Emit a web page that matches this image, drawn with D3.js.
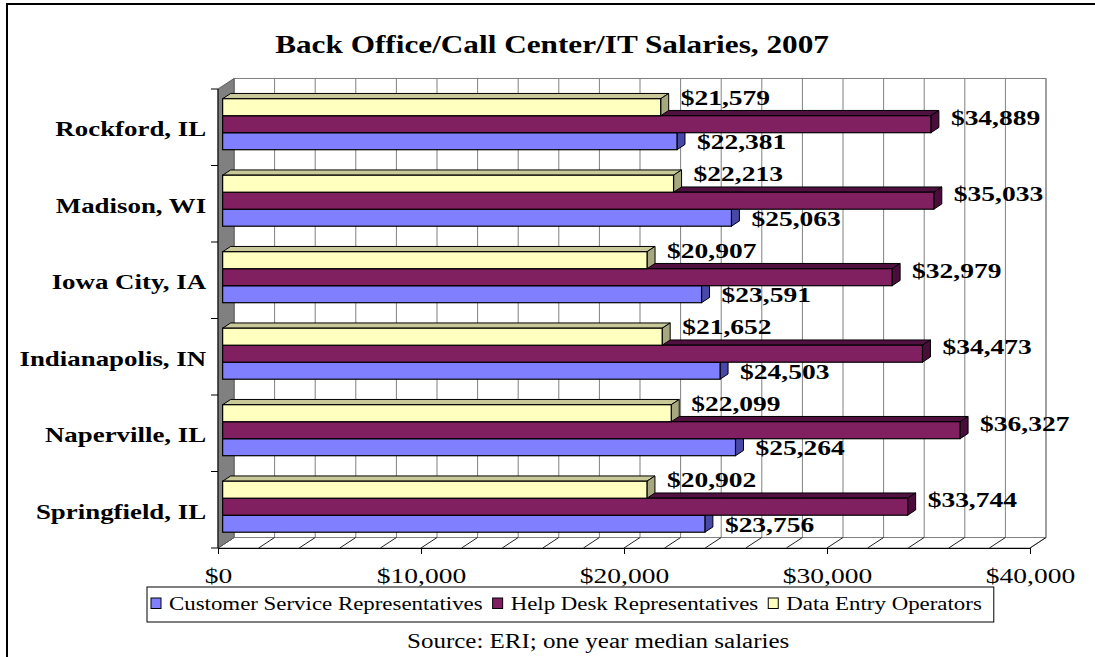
<!DOCTYPE html>
<html>
<head>
<meta charset="utf-8">
<script src="https://cdn.jsdelivr.net/npm/d3@7"></script>
<style>
  body { margin: 0; background: #fff; }
  text { font-family: "Liberation Serif", "Times New Roman", serif; fill: #000; }
</style>
</head>
<body>
<svg id="chart" width="1095" height="657"></svg>
<script>
// ---- data ----
const categories = ["Springfield, IL", "Naperville, IL", "Indianapolis, IN", "Iowa City, IA", "Madison, WI", "Rockford, IL"];
const seriesNames = ["Customer Service Representatives", "Help Desk Representatives", "Data Entry Operators"];
const customerService = [23756, 25264, 24503, 23591, 25063, 22381];
const helpDesk = [33744, 36327, 34473, 32979, 35033, 34889];
const dataEntry = [20902, 22099, 21652, 20907, 22213, 21579];
const xTicks = [0, 10000, 20000, 30000, 40000];
const gridStep = 2000;
const titleText = "Back Office/Call Center/IT Salaries, 2007";
const sourceText = "Source: ERI; one year median salaries";

// ---- look ----
const faceColors = ["#8080ff", "#802060", "#ffffc0"];
const topColors  = ["#5858c0", "#501040", "#c8c898"];
const sideColors = ["#4848a8", "#4a0c3a", "#a8a880"];
const SX = 1.25;               // horizontal text stretch
const W = 1095, H = 657;

const svg = d3.select("#chart");

// plot geometry: front plane and the depth vector of the 3-D box
const front = { left: 218, right: 1030, top: 89, bottom: 548 };
const depth = { dx: 16, dy: -10.5 };
const barT0 = 0.29, barT1 = 0.79;   // bar front / back depth fractions

const x = d3.scaleLinear().domain([0, 40000]).range([front.left, front.right]);
const y = d3.scaleBand().domain(categories).range([front.bottom, front.top]).padding(0);
const bw = y.bandwidth();
// inside each category: Data Entry on top, Customer Service at the bottom
const yInner = d3.scaleBand().domain([2, 1, 0]).range([bw / 6, bw * 5 / 6]);

function stext(parent, px, py, str, anchor) {
  return parent.append("text")
    .attr("transform", `translate(${px},${py}) scale(${SX},1)`)
    .attr("text-anchor", anchor || "start")
    .text(str);
}

// outer frame
svg.append("rect").attr("x", 7).attr("y", 4).attr("width", W + 20).attr("height", H + 20)
  .attr("fill", "#fff").attr("stroke", "#000").attr("stroke-width", 2);

// title
stext(svg, 552, 52.5, titleText, "middle")
  .attr("font-size", 25).attr("font-weight", "bold");

// ---- walls ----
const gWalls = svg.append("g");
// back wall
gWalls.append("rect")
  .attr("x", x(0) + depth.dx).attr("y", front.top + depth.dy)
  .attr("width", x(40000) - x(0)).attr("height", front.bottom - front.top)
  .attr("fill", "#fff").attr("stroke", "#808080");
// gridlines on back wall
const gridVals = d3.range(0, 40000 + 1, gridStep);
gWalls.selectAll("line.grid").data(gridVals).join("line")
  .attr("class", "grid")
  .attr("x1", d => x(d) + depth.dx).attr("x2", d => x(d) + depth.dx)
  .attr("y1", front.top + depth.dy).attr("y2", front.bottom + depth.dy)
  .attr("stroke", "#808080");
// floor
gWalls.append("polygon")
  .attr("points", [[x(0), front.bottom], [x(40000), front.bottom],
                   [x(40000) + depth.dx, front.bottom + depth.dy], [x(0) + depth.dx, front.bottom + depth.dy]].join(" "))
  .attr("fill", "#fff").attr("stroke", "#808080");
gWalls.selectAll("line.floor").data(gridVals).join("line")
  .attr("class", "floor")
  .attr("x1", d => x(d)).attr("y1", front.bottom)
  .attr("x2", d => x(d) + depth.dx).attr("y2", front.bottom + depth.dy)
  .attr("stroke", "#202020");
// left side wall
gWalls.append("polygon")
  .attr("points", [[x(0), front.top], [x(0) + depth.dx, front.top + depth.dy],
                   [x(0) + depth.dx, front.bottom + depth.dy], [x(0), front.bottom]].join(" "))
  .attr("fill", "#808080").attr("stroke", "#606060");

// ---- bars ----
const seriesValues = [customerService, helpDesk, dataEntry];
const bdx = (barT1 - barT0) * depth.dx, bdy = (barT1 - barT0) * depth.dy;
const gBars = svg.append("g");
const labels = [];
const labelShift = [0.5, -7, -10];
categories.forEach((cat, ci) => {
  [0, 1, 2].forEach(si => {
    const v = seriesValues[si][ci];
    const fx0 = x(0) + barT0 * depth.dx;
    const fx1 = x(v) + barT0 * depth.dx;
    const fy0 = y(cat) + yInner(si) + barT0 * depth.dy;
    const fy1 = fy0 + yInner.bandwidth();
    const g = gBars.append("g");
    g.append("polygon")
      .attr("points", [[fx0, fy0], [fx1, fy0], [fx1 + bdx, fy0 + bdy], [fx0 + bdx, fy0 + bdy]].join(" "))
      .attr("fill", topColors[si]).attr("stroke", "#000").attr("stroke-linejoin", "round");
    g.append("polygon")
      .attr("points", [[fx1, fy0], [fx1 + bdx, fy0 + bdy], [fx1 + bdx, fy1 + bdy], [fx1, fy1]].join(" "))
      .attr("fill", sideColors[si]).attr("stroke", "#000").attr("stroke-linejoin", "round");
    g.append("rect")
      .attr("x", fx0).attr("y", fy0).attr("width", fx1 - fx0).attr("height", fy1 - fy0)
      .attr("fill", faceColors[si]).attr("stroke", "#000").attr("stroke-width", 1.2);
    labels.push({ v, x: fx1 + bdx + 12, y: (fy0 + fy1) / 2 + labelShift[si] });
  });
});

// ---- axes ----
const xAxis = d3.axisBottom(x).tickValues(xTicks).tickFormat(d3.format("$,"))
  .tickSize(6).tickSizeOuter(0).tickPadding(13);
const gx = svg.append("g").attr("transform", `translate(0,${front.bottom})`).call(xAxis);
gx.select(".domain").attr("stroke", "#000");
gx.selectAll(".tick line").attr("stroke", "#000");
gx.selectAll(".tick text").attr("font-size", 22).attr("font-family", "Liberation Serif")
  .attr("fill", "#000").attr("transform", `scale(${SX},1)`);

const yAxis = d3.axisLeft(y).tickSize(0).tickPadding(9.5);
const gy = svg.append("g").attr("transform", `translate(${front.left},0)`).call(yAxis);
gy.select(".domain").attr("stroke", "#000").attr("d", `M0,${front.top}V${front.bottom}`);
gy.selectAll(".tick text").attr("font-size", 21.5).attr("font-weight", "bold")
  .attr("font-family", "Liberation Serif").attr("fill", "#000")
  .attr("dy", "0.42em").attr("transform", `scale(${SX},1)`);
// category boundary ticks
const bounds = categories.map(c => y(c)).concat([front.bottom]);
svg.selectAll("line.ctick").data(bounds).join("line")
  .attr("class", "ctick")
  .attr("x1", front.left - 7).attr("x2", front.left)
  .attr("y1", d => d).attr("y2", d => d).attr("stroke", "#000");

// ---- value labels ----
const fmt = d3.format("$,");
labels.forEach(l => {
  stext(svg, l.x, l.y + 7.5, fmt(l.v), "start")
    .attr("font-size", 22).attr("font-weight", "bold");
});

// ---- legend ----
const gLeg = svg.append("g");
const legBox = gLeg.append("rect").attr("x", 147).attr("y", 587).attr("height", 35)
  .attr("fill", "#fff").attr("stroke", "#000");
let lx = 151;
seriesNames.forEach((name, i) => {
  gLeg.append("rect").attr("x", lx).attr("y", 598).attr("width", 10).attr("height", 10.5)
    .attr("fill", faceColors[i]).attr("stroke", "#000");
  const t = stext(gLeg, lx + 18, 610, name, "start").attr("font-size", 18.3);
  lx += 18 + t.node().getComputedTextLength() * SX + 10;
});
legBox.attr("width", lx - 147 + 2);

// source note
stext(svg, 407, 648, sourceText, "start").attr("font-size", 20);
</script>
</body>
</html>
